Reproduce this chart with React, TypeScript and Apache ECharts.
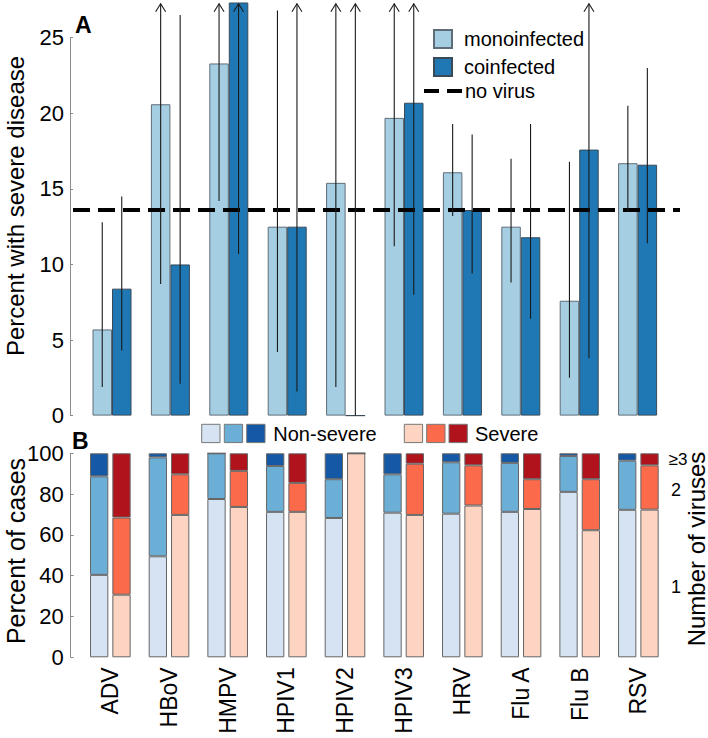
import React, { useEffect, useRef } from 'react';
import * as echarts from 'echarts';

// ---------- data ----------
const categories = ['ADV', 'HBoV', 'HMPV', 'HPIV1', 'HPIV2', 'HPIV3', 'HRV', 'Flu A', 'Flu B', 'RSV'];

// Panel A: percent with severe disease
const monoPct = [5.7, 20.6, 23.3, 12.5, 15.4, 19.7, 16.1, 12.5, 7.6, 16.7];
const coPct = [8.4, 10.0, 28.5, 12.5, 0, 20.7, 13.6, 11.8, 17.6, 16.6];
// confidence intervals (null upper = beyond the axis, drawn as an arrow)
const monoLow = [1.9, 8.7, 14.2, 4.2, 1.9, 11.2, 13.2, 8.8, 2.5, 13.5];
const monoHigh: (number | null)[] = [12.8, null, null, 26.8, null, null, 19.3, 17.0, 16.8, 20.5];
const coLow = [4.3, 2.1, 10.7, 1.6, 0, 8.0, 9.4, 6.4, 3.8, 11.4];
const coHigh: (number | null)[] = [14.5, 26.5, null, null, null, null, 18.6, 19.3, null, 23.0];
const noVirusPct = 13.6;

// Panel B: percent of cases by number of viruses
const nonSevere1 = [40.4, 49.5, 77.6, 71.3, 68.3, 70.9, 70.4, 71.3, 81.1, 72.3];
const nonSevere2 = [48.3, 48.5, 22.4, 22.5, 19.0, 18.8, 25.2, 24.0, 17.6, 24.1];
const nonSevere3 = [11.3, 2.0, 0, 6.2, 12.7, 10.3, 4.4, 4.7, 1.3, 3.6];
const severe1 = [30.7, 69.8, 73.7, 71.3, 100, 69.8, 74.4, 72.7, 62.3, 72.4];
const severe2 = [37.8, 19.9, 17.7, 14.2, 0, 25.1, 19.7, 14.6, 25.0, 21.7];
const severe3 = [31.5, 10.3, 8.6, 14.5, 0, 5.1, 5.9, 12.7, 12.7, 5.9];

const topTicks = { min: 0, max: 25, interval: 5 };
const topExtentMax = 27.3;
const bottomTicks = { min: 0, max: 100, interval: 20 };

// ---------- style ----------
const FONT = "'Liberation Sans', Arial, Helvetica, sans-serif";
const MONO = '#a6cee3';
const CO = '#1f78b4';
const NS = ['#d5e3f2', '#6baed6', '#1458a6'];
const SV = ['#fdd3c1', '#fb6a4a', '#b0131b'];
const AXIS = '#8c8c8c';
const BAR_TOP = 19.5;
const BAR_BOT = 18.3;

export default function App() {
  const ref = useRef<HTMLDivElement>(null);

  useEffect(() => {
    if (!ref.current) return;
    const chart = echarts.init(ref.current, undefined, { renderer: 'svg' });

    const arrowTop = topExtentMax - 0.05;
    const errData: number[][] = [];
    categories.forEach((_, i) => {
      errData.push([i, monoLow[i], monoHigh[i] ?? arrowTop, 0, monoHigh[i] == null ? 1 : 0]);
      errData.push([i, coLow[i], coHigh[i] ?? arrowTop, 1, coHigh[i] == null ? 1 : 0]);
    });

    const bottomBar = (name: string, stack: string, data: number[], color: string) => ({
      name,
      type: 'bar',
      xAxisIndex: 3,
      yAxisIndex: 3,
      stack,
      data,
      barWidth: BAR_BOT,
      barGap: '22%',
      itemStyle: { color, borderColor: '#666', borderWidth: 1 },
    });

    const option: any = {
      animation: false,
      textStyle: { fontFamily: FONT },
      grid: [
        { left: 82.8, width: 584, top: 3, height: 412.6 },
        { left: 70, width: 10, top: 37.7, height: 377.9 },
        { left: 73, width: 607, top: 3, height: 412.6 },
        { left: 81, width: 586.7, top: 453.3, height: 204 },
      ],
      xAxis: [
        { gridIndex: 0, type: 'category', data: categories, show: false },
        { gridIndex: 1, type: 'value', show: false, min: 0, max: 1 },
        { gridIndex: 2, type: 'value', show: false, min: 0, max: 1 },
        {
          gridIndex: 3,
          type: 'category',
          data: categories,
          axisLine: { show: false },
          axisTick: { show: false },
          axisLabel: { rotate: 90, fontSize: 23, margin: 10, color: '#000', fontFamily: FONT },
        },
      ],
      yAxis: [
        { gridIndex: 0, type: 'value', min: 0, max: topExtentMax, show: false },
        {
          gridIndex: 1,
          type: 'value',
          ...topTicks,
          axisLine: { show: true, lineStyle: { color: AXIS, width: 1 } },
          axisTick: { show: true, inside: true, length: 3, lineStyle: { color: AXIS } },
          axisLabel: { fontSize: 22, margin: 6, color: '#000', fontFamily: FONT },
          splitLine: { show: false },
        },
        { gridIndex: 2, type: 'value', min: 0, max: topExtentMax, show: false },
        {
          gridIndex: 3,
          type: 'value',
          ...bottomTicks,
          offset: 10.3,
          axisLine: { show: true, lineStyle: { color: AXIS, width: 1 } },
          axisTick: { show: true, inside: true, length: 3, lineStyle: { color: AXIS } },
          axisLabel: { fontSize: 22, margin: 7, color: '#000', fontFamily: FONT },
          splitLine: { show: false },
        },
      ],
      legend: [
        {
          data: ['monoinfected', 'coinfected'],
          orient: 'vertical',
          left: 428,
          top: 24,
          itemWidth: 18,
          itemHeight: 18,
          itemGap: 8,
          selectedMode: false,
          icon: 'rect',
          textStyle: { fontSize: 20, color: '#000', fontFamily: FONT, padding: [0, 0, 0, 7] },
        },
        {
          data: ['no virus'],
          left: 417,
          top: 76,
          itemWidth: 38,
          itemHeight: 18,
          selectedMode: false,
          itemStyle: { opacity: 0, color: 'transparent', borderWidth: 0 },
          lineStyle: { color: '#000', width: 4, type: [15, 8] },
          textStyle: { fontSize: 20, color: '#000', fontFamily: FONT, padding: [0, 0, 0, -2] },
        },
      ],
      series: [
        {
          name: 'monoinfected',
          type: 'bar',
          xAxisIndex: 0,
          yAxisIndex: 0,
          data: monoPct,
          barWidth: BAR_TOP,
          barGap: '0%',
          itemStyle: { color: MONO, borderColor: '#5e6d78', borderWidth: 1 },
        },
        {
          name: 'coinfected',
          type: 'bar',
          xAxisIndex: 0,
          yAxisIndex: 0,
          data: coPct,
          barWidth: BAR_TOP,
          barGap: '0%',
          itemStyle: { color: CO, borderColor: '#3a4a58', borderWidth: 1 },
        },
        {
          name: 'confidence interval',
          type: 'custom',
          xAxisIndex: 0,
          yAxisIndex: 0,
          z: 5,
          clip: false,
          encode: { x: 0, y: [1, 2] },
          data: errData,
          renderItem: (params: any, api: any) => {
            const i = api.value(0);
            const lo = api.value(1);
            const hi = api.value(2);
            const side = api.value(3);
            const arrow = api.value(4);
            const pLo = api.coord([i, lo]);
            const pHi = api.coord([i, hi]);
            const x = pLo[0] + (side === 0 ? -1 : 1) * (BAR_TOP / 2);
            const children: any[] = [
              {
                type: 'line',
                shape: { x1: x, y1: pLo[1], x2: x, y2: pHi[1] },
                style: { stroke: '#1a1a1a', lineWidth: 1.1 },
              },
            ];
            if (arrow) {
              children.push({
                type: 'polyline',
                shape: { points: [[x - 5, pHi[1] + 8], [x, pHi[1]], [x + 5, pHi[1] + 8]] },
                style: { stroke: '#1a1a1a', lineWidth: 1.1, fill: 'none' },
              });
            }
            return { type: 'group', children };
          },
        },
        {
          name: 'no virus',
          type: 'line',
          xAxisIndex: 2,
          yAxisIndex: 2,
          data: [[0, noVirusPct], [1, noVirusPct]],
          symbol: 'none',
          z: 4,
          lineStyle: { color: '#000', width: 4, type: [17, 8] },
          itemStyle: { color: '#000' },
        },
        bottomBar('Non-severe, 1 virus', 'ns', nonSevere1, NS[0]),
        bottomBar('Non-severe, 2 viruses', 'ns', nonSevere2, NS[1]),
        bottomBar('Non-severe, ≥3 viruses', 'ns', nonSevere3, NS[2]),
        bottomBar('Severe, 1 virus', 'sv', severe1, SV[0]),
        bottomBar('Severe, 2 viruses', 'sv', severe2, SV[1]),
        bottomBar('Severe, ≥3 viruses', 'sv', severe3, SV[2]),
      ],
      graphic: [
        { type: 'text', x: 75, y: 25, style: { text: 'A', font: `bold 23px ${FONT}`, fill: '#000', verticalAlign: 'middle' } },
        { type: 'text', x: 72, y: 440.5, style: { text: 'B', font: `bold 23px ${FONT}`, fill: '#000', verticalAlign: 'middle' } },
        {
          type: 'text', x: 15, y: 206, rotation: Math.PI / 2,
          style: { text: 'Percent with severe disease', font: `24px ${FONT}`, fill: '#000', align: 'center', verticalAlign: 'middle' },
        },
        {
          type: 'text', x: 16, y: 551, rotation: Math.PI / 2,
          style: { text: 'Percent of cases', font: `25px ${FONT}`, fill: '#000', align: 'center', verticalAlign: 'middle' },
        },
        {
          type: 'text', x: 696, y: 549, rotation: Math.PI / 2,
          style: { text: 'Number of viruses', font: `24px ${FONT}`, fill: '#000', align: 'center', verticalAlign: 'middle' },
        },
        { type: 'text', x: 678, y: 459, style: { text: '≥3', font: `17px ${FONT}`, fill: '#000', align: 'center', verticalAlign: 'middle' } },
        { type: 'text', x: 676, y: 490, style: { text: '2', font: `18px ${FONT}`, fill: '#000', align: 'center', verticalAlign: 'middle' } },
        { type: 'text', x: 676, y: 587, style: { text: '1', font: `18px ${FONT}`, fill: '#000', align: 'center', verticalAlign: 'middle' } },
        // panel B legend
        { type: 'rect', shape: { x: 201.7, y: 424.3, width: 18.3, height: 18.3 }, style: { fill: NS[0], stroke: '#777', lineWidth: 1 } },
        { type: 'rect', shape: { x: 224.3, y: 424.3, width: 18.3, height: 18.3 }, style: { fill: NS[1], stroke: '#777', lineWidth: 1 } },
        { type: 'rect', shape: { x: 246.7, y: 424.3, width: 18.3, height: 18.3 }, style: { fill: NS[2], stroke: '#777', lineWidth: 1 } },
        { type: 'text', x: 273.3, y: 434, style: { text: 'Non-severe', font: `20px ${FONT}`, fill: '#000', verticalAlign: 'middle' } },
        { type: 'rect', shape: { x: 404.3, y: 424.3, width: 18.3, height: 18.3 }, style: { fill: SV[0], stroke: '#777', lineWidth: 1 } },
        { type: 'rect', shape: { x: 426.7, y: 424.3, width: 18.3, height: 18.3 }, style: { fill: SV[1], stroke: '#777', lineWidth: 1 } },
        { type: 'rect', shape: { x: 449, y: 424.3, width: 18.3, height: 18.3 }, style: { fill: SV[2], stroke: '#777', lineWidth: 1 } },
        { type: 'text', x: 475, y: 434, style: { text: 'Severe', font: `20px ${FONT}`, fill: '#000', verticalAlign: 'middle' } },
      ],
    };

    chart.setOption(option);
    return () => chart.dispose();
  }, []);

  return (
    <div
      ref={ref}
      style={{ position: 'fixed', left: 0, top: 0, width: 708, height: 738, background: '#fff' }}
    />
  );
}
